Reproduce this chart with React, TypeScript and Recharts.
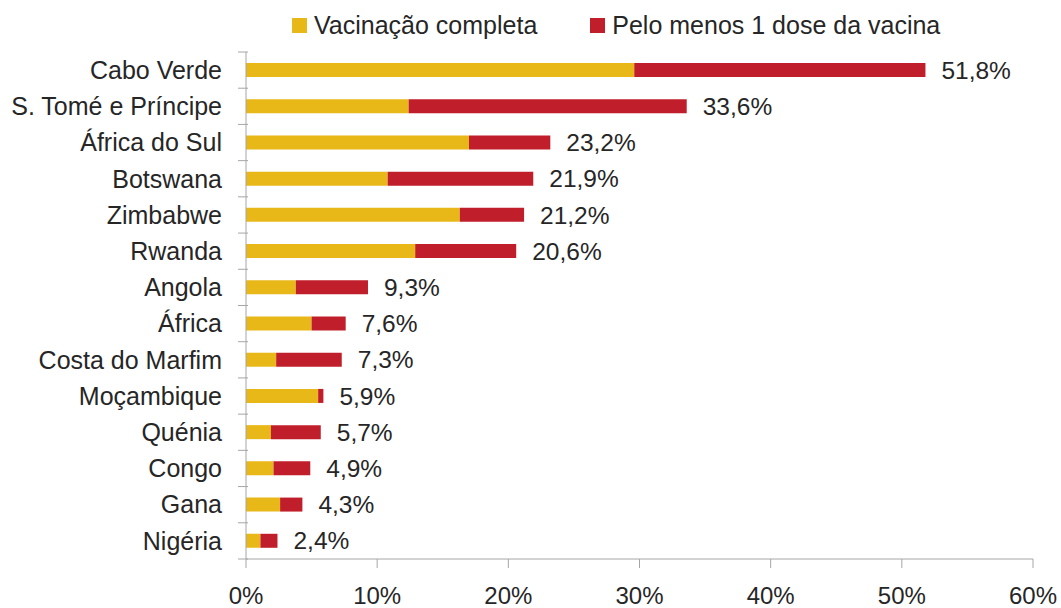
import { Bar, BarChart, LabelList, Legend, XAxis, YAxis } from "recharts";

const countries = [
  "Cabo Verde",
  "S. Tomé e Príncipe",
  "África do Sul",
  "Botswana",
  "Zimbabwe",
  "Rwanda",
  "Angola",
  "África",
  "Costa do Marfim",
  "Moçambique",
  "Quénia",
  "Congo",
  "Gana",
  "Nigéria",
];

// % da população com vacinação completa
const complete = [29.6, 12.4, 17.0, 10.8, 16.3, 12.9, 3.8, 5.0, 2.3, 5.5, 1.9, 2.1, 2.6, 1.1];
// parte restante até "pelo menos 1 dose"
const partial = [22.2, 21.2, 6.2, 11.1, 4.9, 7.7, 5.5, 2.6, 5.0, 0.4, 3.8, 2.8, 1.7, 1.3];

const xTicks = [0, 10, 20, 30, 40, 50, 60];

const series = [
  { key: "complete", name: "Vacinação completa", color: "#E8B819" },
  { key: "partial", name: "Pelo menos 1 dose da vacina", color: "#C01E2A" },
];

const data = countries.map((country, i) => ({
  country,
  complete: complete[i],
  partial: partial[i],
  total: complete[i] + partial[i],
}));

const W = 1061;
const H = 608;
const TOP = 52;
const BOTTOM = 49;
const FONT = "'Liberation Sans', Arial, sans-serif";
const TEXT = "#262626";
const AXIS = "#a6a6a6";
const band = (H - TOP - BOTTOM) / countries.length;

const fmt = (v: number) => v.toFixed(1).replace(".", ",") + "%";

function CategoryTick(props: any) {
  const { x, y, payload, index } = props;
  const axisX = x + 10;
  return (
    <g>
      <line x1={axisX - 10} x2={axisX} y1={y - band / 2} y2={y - band / 2} stroke={AXIS} />
      {index === countries.length - 1 && (
        <line x1={axisX - 10} x2={axisX} y1={y + band / 2} y2={y + band / 2} stroke={AXIS} />
      )}
      <text x={x - 16} y={y} dy="0.35em" textAnchor="end" fill={TEXT} fontSize={25} fontFamily={FONT}>
        {payload.value}
      </text>
    </g>
  );
}

function TopLegend() {
  return (
    <div style={{ display: "flex", alignItems: "center", fontFamily: FONT, fontSize: 25, color: TEXT, whiteSpace: "nowrap" }}>
      {series.map((s, i) => (
        <div key={s.key} style={{ display: "flex", alignItems: "center", marginRight: i === 0 ? 53 : 0 }}>
          <span style={{ width: 15, height: 15, background: s.color, display: "inline-block", marginRight: 7 }} />
          <span>{s.name}</span>
        </div>
      ))}
    </div>
  );
}

export default function App() {
  return (
    <div style={{ position: "absolute", left: 0, top: 0, width: W, height: H, background: "#fff" }}>
      <BarChart
        width={W}
        height={H}
        data={data}
        layout="vertical"
        margin={{ top: TOP, right: 28, left: 0, bottom: 0 }}
      >
        <XAxis
          type="number"
          domain={[0, 60]}
          ticks={xTicks}
          tickFormatter={(v) => `${v}%`}
          height={BOTTOM}
          tickSize={9}
          tickMargin={19}
          stroke={AXIS}
          tick={{ fill: TEXT, fontSize: 24, fontFamily: FONT }}
        />
        <YAxis
          type="category"
          dataKey="country"
          width={246}
          tickLine={false}
          stroke={AXIS}
          tick={<CategoryTick />}
          interval={0}
        />
        <Legend
          verticalAlign="middle"
          align="center"
          content={<TopLegend />}
          wrapperStyle={{ position: "absolute", top: 11, left: 292, width: "auto" }}
        />
        <Bar dataKey="complete" name={series[0].name} stackId="a" fill={series[0].color} barSize={14} isAnimationActive={false} />
        <Bar dataKey="partial" name={series[1].name} stackId="a" fill={series[1].color} barSize={14} isAnimationActive={false}>
          <LabelList
            dataKey="total"
            position="right"
            offset={16}
            formatter={(v: any) => fmt(Number(v))}
            fill={TEXT}
            fontSize={24.5}
            fontFamily={FONT}
          />
        </Bar>
      </BarChart>
    </div>
  );
}
